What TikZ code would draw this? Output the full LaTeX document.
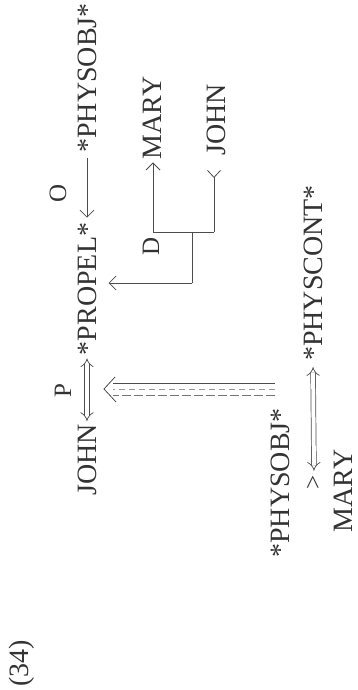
\documentclass[tikz,border=0pt]{standalone}
\usepackage{fontspec}
\setmainfont{Liberation Serif}
\usetikzlibrary{arrows.meta}
\begin{document}
\begin{tikzpicture}[x=1pt,y=-1pt,
  word/.style={rotate=90, inner sep=0pt, font=\fontsize{28}{30}\selectfont, text=black!80},
  tag/.style={rotate=90, inner sep=0pt, font=\fontsize{25}{27}\selectfont, text=black!80},
  conn/.style={draw=black!70, line width=0.8pt},
  barb/.style={-{Straight Barb[length=7pt,width=14pt]}},
  rbarb/.style={-{Straight Barb[reversed,length=7pt,width=13pt]}},
  dbl/.style={draw=black!70, line width=0.7pt, double=white, double distance=4pt, {Implies}-{Implies}},
]
\useasboundingbox (0,0) rectangle (358,690);
% main act line
\node[word] (phys1) at (87,78) {*PHYSOBJ*};
\node[word] (propel) at (87,289) {*PROPEL*};
\node[word] (john1) at (87,460) {JOHN};
\node[tag] (olbl) at (58,193) {O};
\node[tag] (plbl) at (63,391) {P};
\draw[conn, barb, shorten <=5pt, shorten >=5pt] (phys1.west) -- (propel.east);
\draw[dbl, shorten <=3pt, shorten >=3pt] (propel.west) -- (john1.east);
% direction case
\node[word] (mary2) at (152,118) {MARY};
\node[word] (john2) at (216,120) {JOHN};
\node[tag] (dlbl) at (151,246) {D};
\coordinate (jm) at (153,232);
\coordinate (jj) at (214,232);
\coordinate (jc) at (192,232);
\coordinate (jd) at (192,283);
\draw[conn] (jm) -- (jj);
\draw[conn, barb, shorten >=3pt] (jm) -- (jm |- mary2.west);
\draw[conn, rbarb, shorten >=14pt] (jj) -- (jj |- john2.west);
\draw[conn] (jc) -- (jd);
\draw[conn, barb, shorten >=12pt] (jd) -- (jd -| propel.south);
% causal link
\coordinate (cs) at (275,389);
\coordinate (ce) at (104,389);
\draw[conn] ([yshift=6pt]cs) -- ([yshift=6pt,xshift=9pt]ce);
\draw[conn, draw=black!40, dash pattern=on 6pt off 4pt] (cs) -- ([xshift=9pt]ce);
\draw[conn, draw=black!55, dash pattern=on 9pt off 3pt] ([yshift=-6pt]cs) -- ([yshift=-6pt,xshift=9pt]ce);
\draw[conn] ([xshift=11pt,yshift=12pt]ce) -- (ce) -- ([xshift=12pt,yshift=-13pt]ce);
% state
\node[word] (physcont) at (313,273) {*PHYSCONT*};
\node[word] (phys2) at (280,483) {*PHYSOBJ*};
\node[tag] (caret) at (314,482) {>};
\node[word] (mary3) at (343,491) {MARY};
\draw[dbl, shorten <=6pt, shorten >=4pt] (physcont.west) -- (caret.east);
% number
\node[word] (num) at (22,663) {(34)};
\end{tikzpicture}
\end{document}
